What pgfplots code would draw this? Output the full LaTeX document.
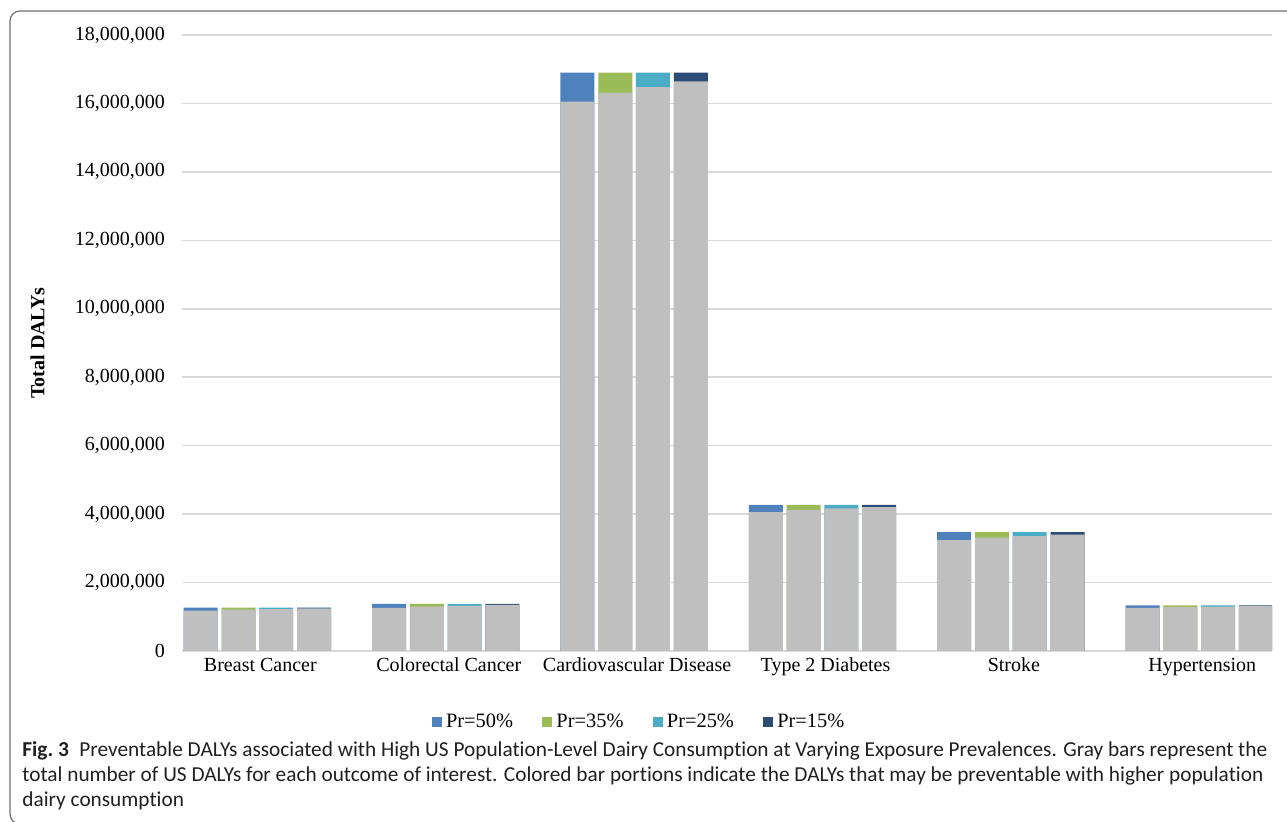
\documentclass[border=0pt]{standalone}
\usepackage{fontspec}
\setmainfont{Liberation Serif}
\newfontfamily\capfont[Ligatures={NoCommon}]{Carlito}
\usepackage{pgfplots}
\usepackage{pgfplotstable}
\pgfplotsset{compat=1.18}
\definecolor{cA}{HTML}{4F81BD}
\definecolor{cB}{HTML}{9BBB59}
\definecolor{cC}{HTML}{4BACC6}
\definecolor{cD}{HTML}{2C4D75}
\definecolor{gbar}{HTML}{BFBFBF}
\definecolor{gridc}{HTML}{D9D9D9}
\definecolor{framec}{HTML}{6D6E71}
\definecolor{captxt}{HTML}{231F20}
\pgfplotstableread{
cat total g50 g35 g25 g15
0 1270000 1180000 1207000 1225000 1243000
1 1380000 1260000 1296000 1320000 1344000
2 16900000 16050000 16305000 16475000 16645000
3 4270000 4060000 4123000 4165000 4207000
4 3470000 3240000 3309000 3355000 3401000
5 1335000 1260000 1282500 1297500 1312500
}\data
\pgfplotsset{
  sqleg/.style={legend image code/.code={\fill[##1] (0pt,-2.6pt) rectangle (5.2pt,2.6pt);}},
  barsty/.style={ybar, bar width=0.1805, bar shift=0pt, draw=none},
}
\begin{document}
\begin{tikzpicture}
\useasboundingbox (0,0) rectangle (643.5pt,411pt);
\draw[framec, line width=0.6pt, rounded corners=5pt] (720pt,405.5pt) -- (5pt,405.5pt) -- (5pt,-1pt) -- (720pt,-1pt);
\begin{axis}[
  at={(91pt,85.5pt)}, anchor=south west,
  scale only axis, width=545pt, height=308pt,
  xmin=-0.4, xmax=5.386, ymin=0, ymax=18000000,
  axis line style={draw=none},
  major tick length=0pt,
  xtick={0,1,2,3,4,5},
  xticklabels={Breast Cancer, Colorectal Cancer, Cardiovascular Disease, Type 2 Diabetes, Stroke, Hypertension},
  ytick={0,2000000,4000000,6000000,8000000,10000000,12000000,14000000,16000000,18000000},
  scaled y ticks=false,
  yticklabel style={/pgf/number format/fixed, /pgf/number format/precision=0, /pgf/number format/1000 sep={,}, /pgf/number format/assume math mode=true},
  yticklabel style={font=\fontsize{10}{12}\selectfont, xshift=-5pt},
  xticklabel style={font=\fontsize{10}{12}\selectfont, xshift=1.5pt},
  ymajorgrids, grid style={gridc, line width=0.75pt},
  ylabel={\textbf{Total DALYs}},
  ylabel style={at={(rel axis cs:-0.1326,0.5)}, anchor=center, font=\fontsize{10}{12}\selectfont},
  legend columns=4,
  legend style={at={(rel axis cs:0.4202,-0.1153)}, anchor=center, draw=none, fill=none,
    font=\fontsize{10.2}{12}\selectfont,
    /tikz/every even column/.append style={column sep=12.5pt}},
]
\addplot[barsty, fill=cA, sqleg] table[x expr=\thisrow{cat}-0.301, y=total]{\data};
\addlegendentry{Pr=50\%}
\addplot[barsty, fill=cB, sqleg] table[x expr=\thisrow{cat}-0.1, y=total]{\data};
\addlegendentry{Pr=35\%}
\addplot[barsty, fill=cC, sqleg] table[x expr=\thisrow{cat}+0.1, y=total]{\data};
\addlegendentry{Pr=25\%}
\addplot[barsty, fill=cD, sqleg] table[x expr=\thisrow{cat}+0.301, y=total]{\data};
\addlegendentry{Pr=15\%}
\addplot[barsty, fill=gbar, forget plot] table[x expr=\thisrow{cat}-0.301, y=g50]{\data};
\addplot[barsty, fill=gbar, forget plot] table[x expr=\thisrow{cat}-0.1, y=g35]{\data};
\addplot[barsty, fill=gbar, forget plot] table[x expr=\thisrow{cat}+0.1, y=g25]{\data};
\addplot[barsty, fill=gbar, forget plot] table[x expr=\thisrow{cat}+0.301, y=g15]{\data};
\end{axis}
\node[anchor=north west, align=left, inner sep=0pt, text=captxt, font=\capfont\fontsize{10.65}{12.5}\selectfont] at (11pt,40.5pt)
{\textbf{Fig.~3}\enspace Preventable DALYs associated with High US Population-Level Dairy Consumption at Varying Exposure Prevalences. Gray bars represent the\\
total number of US DALYs for each outcome of interest. Colored bar portions indicate the DALYs that may be preventable with higher population\\
dairy consumption};
\end{tikzpicture}
\end{document}
